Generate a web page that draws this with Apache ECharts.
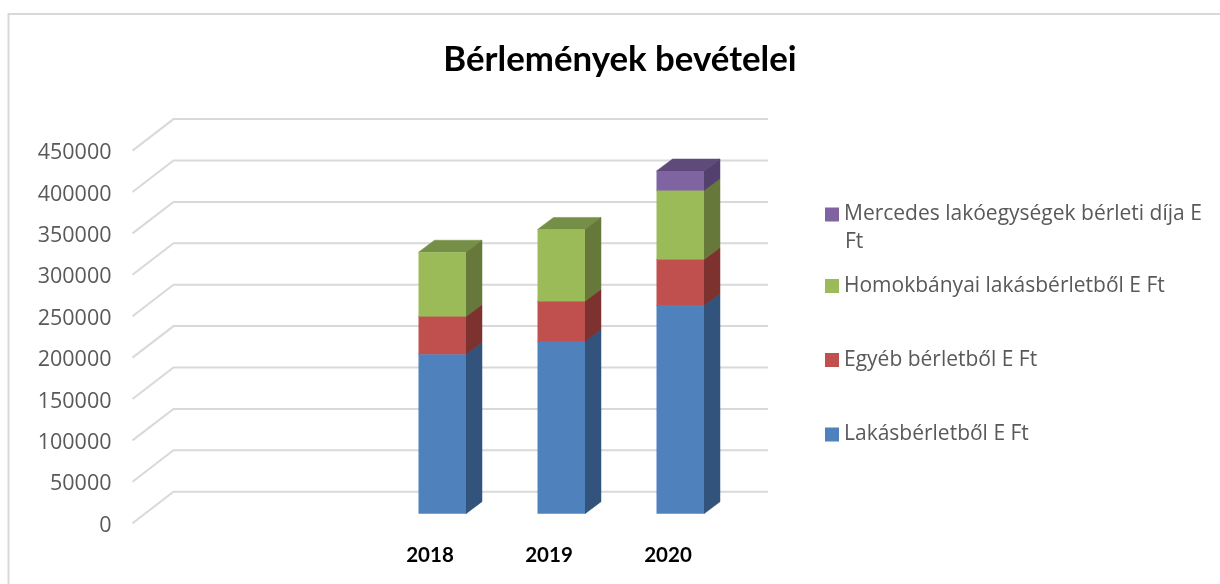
<!DOCTYPE html>
<html><head><meta charset="utf-8">
<style>html,body{margin:0;padding:0;background:#fff}#c{width:1220px;height:584px}</style>
<script src="https://cdn.jsdelivr.net/npm/echarts@6/dist/echarts.min.js"></script></head>
<body><div id="c"></div>
<script>
const categories = ['', '', '2018', '2019', '2020'];
const yTicks = [0, 50000, 100000, 150000, 200000, 250000, 300000, 350000, 400000, 450000];
const lakas = [null, null, 192600, 208000, 251400];
const egyeb = [null, null, 45500, 48700, 55500];
const homok = [null, null, 77700, 86600, 83300];
const mercedes = [null, null, null, null, 23700];
const names = ['Lakásbérletből E Ft', 'Egyéb bérletből E Ft', 'Homokbányai lakásbérletből E Ft', 'Mercedes lakóegységek bérleti díja E Ft'];
const stacks = [lakas, egyeb, homok, mercedes];
const palette = [
  {front: '#4F81BD', side: '#32547C', top: '#3F6797'},
  {front: '#C0504D', side: '#7E3230', top: '#9A403D'},
  {front: '#9BBB59', side: '#66793A', top: '#768F46'},
  {front: '#8064A2', side: '#54406F', top: '#5F4A7A'}
];

const wallDX = 41, wallDY = 31.5;   // depth of the 3D floor
const barOffX = 12.5, barOffY = 9.5; // bar position inside the depth
const barDX = 16, barDY = 12, barW = 47.5; // bar depth and width

const running = categories.map(() => 0);
const barData = stacks.map(vals => vals.map((v, i) => {
  if (v == null) return [i, null, null];
  const base = running[i];
  running[i] += v;
  return [i, base, running[i]];
}).filter(d => d[1] !== null));

function poly(points, color) {
  return {type: 'polygon', shape: {points}, style: {fill: color, stroke: color, lineWidth: 0.5}};
}
function barItem(colors) {
  return function (params, api) {
    const cat = api.value(0);
    const b = api.coord([cat, api.value(1)]);
    const t = api.coord([cat, api.value(2)]);
    const l = b[0] + barOffX - 24, r = l + barW;
    const yb = b[1] - barOffY, yt = t[1] - barOffY;
    return {type: 'group', children: [
      poly([[l, yt], [l + barDX, yt - barDY], [r + barDX, yt - barDY], [r, yt]], colors.top),
      poly([[r, yb], [r + barDX, yb - barDY], [r + barDX, yt - barDY], [r, yt]], colors.side),
      {type: 'rect', shape: {x: l, y: yt, width: barW, height: yb - yt}, style: {fill: colors.front}}
    ]};
  };
}
function gridItem(params, api) {
  const p = api.coord([0, api.value(0)]);
  const x0 = params.coordSys.x, y = p[1];
  return {type: 'polyline', shape: {points: [[x0, y], [x0 + wallDX, y - wallDY], [768, y - wallDY]]},
    style: {stroke: '#D9D9D9', lineWidth: 2, fill: null}};
}

const chart = echarts.init(document.getElementById('c'), null, {renderer: 'canvas'});
const legendTops = [424, 349.5, 275.5, 204];
chart.setOption({
  animation: false,
  backgroundColor: '#fff',
  title: {text: 'Bérlemények bevételei', left: 615, top: 37, textAlign: 'center',
    textStyle: {fontFamily: 'Lato', fontWeight: 'bold', fontSize: 34.8, color: '#000'}},
  grid: {left: 132.5, top: 150.6, width: 595, height: 372.6},
  xAxis: {type: 'category', data: categories, axisLine: {show: false}, axisTick: {show: false}, splitLine: {show: false},
    axisLabel: {interval: 0, margin: 22, fontFamily: 'Lato', fontWeight: 'bold', fontSize: 20.5, color: '#000'}},
  yAxis: {type: 'value', min: 0, max: 450000, interval: 50000, axisLine: {show: false}, axisTick: {show: false}, splitLine: {show: false},
    axisLabel: {margin: 21, color: '#595959', formatter: v => '{a|' + v + '}',
      rich: {a: {padding: [5, 0, 0, 0], fontFamily: 'Open Sans', fontSize: 21.5, color: '#595959'}}}},
  legend: names.map((n, i) => ({
    left: 825, top: legendTops[i], orient: 'vertical', data: [n], icon: 'rect', itemWidth: 14, itemHeight: 14,
    selectedMode: false, padding: 0,
    formatter: nm => nm === names[3] ? 'Mercedes lakóegységek bérleti díja E' : nm,
    textStyle: {fontFamily: 'Open Sans', fontSize: 21, color: '#595959'}
  })),
  graphic: [
    {type: 'rect', silent: true, z: -10, shape: {x: 8.5, y: 14, width: 1300, height: 700}, style: {fill: '#fff', stroke: '#D9D9D9', lineWidth: 2}},
    {type: 'text', silent: true, left: 845, top: 232, style: {text: 'Ft', fontFamily: 'Open Sans', fontSize: 21, fill: '#595959'}}
  ],
  series: [
    {type: 'custom', name: 'rács', silent: true, renderItem: gridItem, data: yTicks.map(v => [v]), encode: {y: 0}, z: 1},
    ...names.map((n, i) => ({
      type: 'custom', name: n, renderItem: barItem(palette[i]), data: barData[i],
      encode: {x: 0, y: [1, 2]}, itemStyle: {color: palette[i].front}, z: 2 + i
    }))
  ]
});
</script></body></html>
